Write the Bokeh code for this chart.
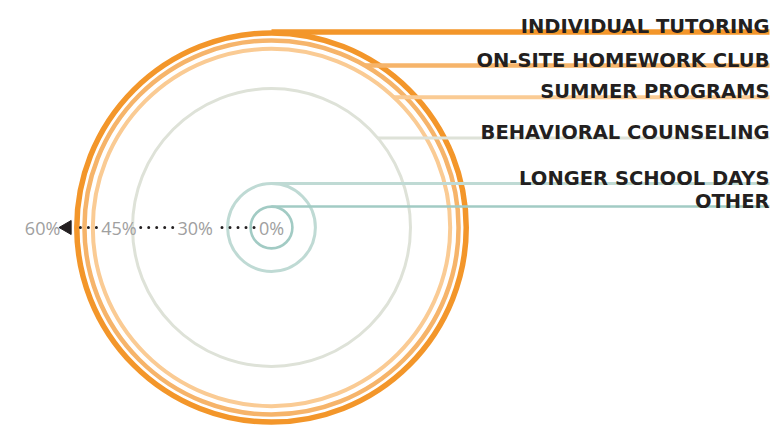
import math
from bokeh.plotting import figure
from bokeh.models import Range1d
from bokeh.core.properties import value
from bokeh.embed import file_html
from bokeh.resources import INLINE

# ---- data ----
categories = ["INDIVIDUAL TUTORING", "ON-SITE HOMEWORK CLUB", "SUMMER PROGRAMS",
              "BEHAVIORAL COUNSELING", "LONGER SCHOOL DAYS", "OTHER"]
values = [55.9, 53.7, 51.3, 39.9, 12.6, 6.0]          # percent
tick_values = [0, 30, 45, 60]
tick_labels = ["0%", "30%", "45%", "60%"]

# ---- style / layout ----
colors = ["#F3962A", "#F6B46A", "#FACB94", "#DEE2D8", "#BFDAD4", "#A2CBC4"]
widths = [5.5, 4.5, 4.0, 3.0, 3.0, 2.6]
label_rows_px = [195.5, 162.0, 130.3, 89.5, 44.0, 21.0]   # leader-line height above centre (px)
W, H = 781, 425
CX, CY = 271, 227            # centre of rings in frame pixels
S = 209 / 60                 # pixels per percentage point
LABEL_RIGHT_PX = 498         # right end of leader lines from centre
AXIS_SLOT_PX = 76.3          # spacing of axis labels
INK = "#231f20"

p = figure(width=W, height=H, output_backend="svg", toolbar_location=None,
           x_range=Range1d(-CX / S, (W - CX) / S),
           y_range=Range1d(-(H - CY) / S, CY / S),
           min_border=0, min_border_left=0, min_border_right=0,
           min_border_top=0, min_border_bottom=0)
p.axis.visible = False
p.grid.visible = False
p.outline_line_color = None
p.background_fill_color = "white"
p.border_fill_color = "white"

# rings (largest last so it sits on top)
for v, c, w in sorted(zip(values, colors, widths), key=lambda t: t[0]):
    p.circle(x=[0], y=[0], radius=[v], fill_color=None, line_color=c, line_width=w)

# leader lines and category labels
x_end = LABEL_RIGHT_PX / S
for cat, v, c, w, row in zip(categories, values, colors, widths, label_rows_px):
    y = row / S
    x0 = math.sqrt(max(v * v - y * y, 0.0))
    p.segment(x0=[x0], y0=[y], x1=[x_end], y1=[y], line_color=c, line_width=w)
    p.text(x=[x_end], y=[y + 5.5 / S], text=[cat], text_align="right",
           text_baseline="alphabetic", text_font=value("DejaVu Sans"),
           text_font_style="bold", text_font_size="19.5px", text_color=INK)

# value axis pointing left
half_w = [12.5, 17.5, 17.5, 17.5]
pos = [-(i * AXIS_SLOT_PX) / S for i in range(len(tick_values))]
p.text(x=pos, y=[0] * len(pos), text=tick_labels, text_align="center",
       text_baseline="middle", text_font=value("Open Sans"),
       text_font_size="18px", text_color="#a0a0a0")

arrow_tip = pos[-1] + (half_w[-1] + 2) / S
arrow_len = 10 / S
for i in range(len(pos) - 1):
    start = pos[i] - (half_w[i] + 5) / S
    if i == len(pos) - 2:
        end = arrow_tip + arrow_len + 3 / S
    else:
        end = pos[i + 1] + (half_w[i + 1] + 4) / S
    p.segment(x0=[start], y0=[0], x1=[end], y1=[0], line_color=INK,
              line_width=3, line_dash="0 8", line_cap="round")

p.scatter(x=[arrow_tip + arrow_len / 2], y=[0], marker="triangle", size=14,
          angle=math.pi / 2, fill_color=INK, line_color=INK)

open("out.html", "w").write(file_html(p, INLINE))
